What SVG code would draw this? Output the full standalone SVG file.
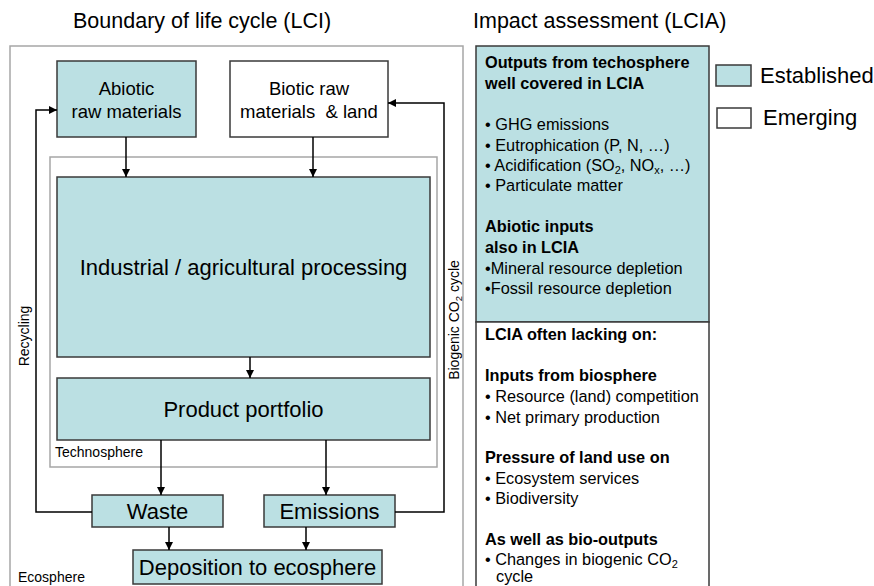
<svg xmlns="http://www.w3.org/2000/svg" width="874" height="586" viewBox="0 0 874 586">
<defs>
<marker id="arr" viewBox="0 0 10 10" refX="10" refY="5" markerWidth="8" markerHeight="8" markerUnits="userSpaceOnUse" orient="auto">
<path d="M0,0 L10,5 L0,10 z" fill="#000"/>
</marker>
<style>
text{font-family:"Liberation Sans",Arial,sans-serif;fill:#000}
.est{fill:#bbe0e3;stroke:#3a3a3a;stroke-width:1.5}
.emg{fill:#fff;stroke:#3a3a3a;stroke-width:1.5}
.bnd{fill:none;stroke:#a6a6a6;stroke-width:1.5}
.lbl{font-size:18.5px;text-anchor:middle}
.big{font-size:22px;text-anchor:middle}
.sm{font-size:14px}
.rp{font-size:16.3px}
.b{font-weight:bold}
.con{fill:none;stroke:#000;stroke-width:1.5}
</style>
</defs>
<rect width="874" height="586" fill="#fff"/>
<text x="73" y="28" style="font-size:21.5px">Boundary of life cycle (LCI)</text>
<text x="473" y="28" style="font-size:21.5px">Impact assessment (LCIA)</text>

<g id="boundary">
<rect class="bnd" x="10" y="46" width="453" height="560"/>
<text class="sm" x="18" y="582">Ecosphere</text>
</g>
<g id="technosphere">
<rect class="bnd" x="50" y="157" width="387" height="310"/>
<text class="sm" x="55" y="457">Technosphere</text>
</g>

<g id="abiotic">
<rect class="est" x="57" y="61" width="139" height="76"/>
<text class="lbl" x="126.5" y="95">Abiotic</text>
<text class="lbl" x="126.5" y="118">raw materials</text>
</g>
<g id="biotic">
<rect class="emg" x="230" y="61" width="158" height="76"/>
<text class="lbl" x="309" y="95">Biotic raw</text>
<text class="lbl" x="309" y="118" xml:space="preserve">materials  &amp; land</text>
</g>
<g id="industrial">
<rect class="est" x="57" y="177" width="373" height="180"/>
<text class="big" x="243.5" y="275">Industrial / agricultural processing</text>
</g>
<g id="product">
<rect class="est" x="57" y="378" width="373" height="62"/>
<text class="big" x="243.5" y="417">Product portfolio</text>
</g>
<g id="waste">
<rect class="est" x="92" y="495" width="131" height="32"/>
<text class="big" x="157.5" y="519">Waste</text>
</g>
<g id="emissions">
<rect class="est" x="264" y="495" width="131" height="32"/>
<text class="big" x="329.5" y="519">Emissions</text>
</g>
<g id="deposition">
<rect class="est" x="133" y="550" width="249" height="34"/>
<text class="big" x="257.5" y="575">Deposition to ecosphere</text>
</g>

<g id="connectors">
<line class="con" x1="126" y1="137" x2="126" y2="177" marker-end="url(#arr)"/>
<line class="con" x1="313" y1="137" x2="313" y2="177" marker-end="url(#arr)"/>
<line class="con" x1="250" y1="357" x2="250" y2="378" marker-end="url(#arr)"/>
<line class="con" x1="161" y1="440" x2="161" y2="495" marker-end="url(#arr)"/>
<line class="con" x1="326" y1="440" x2="326" y2="495" marker-end="url(#arr)"/>
<line class="con" x1="169" y1="527" x2="169" y2="550" marker-end="url(#arr)"/>
<line class="con" x1="306" y1="527" x2="306" y2="550" marker-end="url(#arr)"/>
<polyline class="con" points="92,512 36,512 36,110 57,110" marker-end="url(#arr)"/>
<polyline class="con" points="395,512 444,512 444,103 388,103" marker-end="url(#arr)"/>
<text class="sm" transform="translate(29,336) rotate(-90)" text-anchor="middle">Recycling</text>
<text class="sm" transform="translate(459,320) rotate(-90)" text-anchor="middle">Biogenic CO<tspan font-size="9.5" dy="3">2</tspan><tspan dy="-3"> cycle</tspan></text>
</g>

<g id="lcia-established">
<rect class="est" x="476" y="46" width="233" height="276"/>
<text class="rp b" x="485" y="68">Outputs from techosphere</text>
<text class="rp b" x="485" y="89">well covered in LCIA</text>
<text class="rp" x="485" y="130">• GHG emissions</text>
<text class="rp" x="485" y="151">• Eutrophication (P, N, …)</text>
<text class="rp" x="485" y="171">• Acidification (SO<tspan font-size="11" dy="3">2</tspan><tspan dy="-3">, NO</tspan><tspan font-size="11" dy="3">x</tspan><tspan dy="-3">, …)</tspan></text>
<text class="rp" x="485" y="191">• Particulate matter</text>
<text class="rp b" x="485" y="232">Abiotic inputs</text>
<text class="rp b" x="485" y="253">also in LCIA</text>
<text class="rp" x="485" y="274">•Mineral resource depletion</text>
<text class="rp" x="485" y="294">•Fossil resource depletion</text>
</g>
<g id="lcia-emerging">
<rect class="emg" x="476" y="322" width="233" height="290"/>
<text class="rp b" x="485" y="340">LCIA often lacking on:</text>
<text class="rp b" x="485" y="381">Inputs from biosphere</text>
<text class="rp" x="485" y="402">• Resource (land) competition</text>
<text class="rp" x="485" y="423">• Net primary production</text>
<text class="rp b" x="485" y="463">Pressure of land use on</text>
<text class="rp" x="485" y="484">• Ecosystem services</text>
<text class="rp" x="485" y="504">• Biodiversity</text>
<text class="rp b" x="485" y="545">As well as bio-outputs</text>
<text class="rp" x="485" y="565">• Changes in biogenic CO<tspan font-size="11" dy="3">2</tspan></text>
<text class="rp" x="496" y="582">cycle</text>
</g>

<g id="legend">
<rect class="est" x="716" y="65" width="35" height="21"/>
<text x="760" y="83" style="font-size:22px">Established</text>
<rect class="emg" x="717" y="108" width="34" height="20"/>
<text x="763" y="125" style="font-size:22px">Emerging</text>
</g>
</svg>
